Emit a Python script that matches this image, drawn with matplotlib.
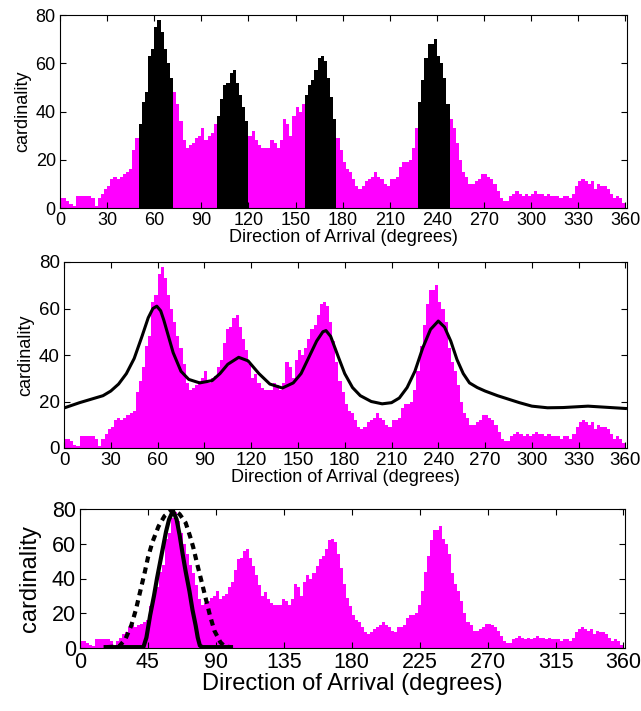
import numpy as np
import matplotlib
matplotlib.use('Agg')
import matplotlib.pyplot as plt

# histogram of DOA estimates, 2-degree bins
bin_edges = np.arange(0, 362, 2)
counts = np.array([4, 4, 3, 1.5, 1, 5, 5, 5, 5, 5, 4, 1, 4, 6, 8, 9, 12, 13, 12, 13,
          14, 15, 16, 24, 29, 35, 44, 48, 63, 66, 75, 78, 73, 66, 60, 54,
          48, 43, 36, 28, 25, 26, 27, 29, 30, 33, 28, 30, 31, 35,
          38, 45, 51, 52, 56, 57, 52, 47, 42, 36,
          30, 32, 28, 26, 25, 25, 25, 28, 27, 25, 28, 37, 35, 30, 38, 42, 40, 43,
          47, 51, 53, 57, 62, 63, 61, 54, 46, 37,
          29, 24, 19, 16, 15, 12, 9, 8, 9, 11, 12, 13, 15, 13, 12, 10, 9, 12, 12,
          13, 17, 19, 19, 20, 25, 33,
          44, 53, 62, 68, 68, 70, 63, 60, 54, 43,
          37, 33, 27, 20, 15, 13, 10, 10, 11, 12, 14, 14, 13, 12, 10, 7, 4, 3, 3,
          5, 6, 7, 6, 5, 6, 5, 6, 7, 6, 6, 5, 6, 5, 5, 5, 4, 5, 5, 4, 6, 9, 11,
          12, 11, 10, 11, 8, 10, 9, 9, 8, 6, 4, 5, 4, 2])

# peak windows highlighted in the top panel
peak_windows = [(50, 72), (100, 120), (156, 176), (228, 248)]

# smoothed density (middle panel)
smooth_deg = [0, 10, 20, 25, 30, 35, 40, 45, 50, 54, 57, 59.5, 62, 64, 67, 70, 75,
              80, 87, 95, 100, 105, 112, 118, 125, 132, 140, 147, 152, 157, 162,
              166, 168, 171, 176, 180, 185, 190, 197, 204, 210, 215, 220, 225,
              230, 235, 240, 244, 248, 252, 256, 260, 265, 270, 278, 285, 292,
              300, 310, 320, 336, 348, 360]
smooth_val = [17.2, 19.5, 21.5, 22.5, 24.5, 27.5, 32, 38.5, 48, 56, 60, 61, 59,
              55, 48, 41, 33, 29.5, 28, 29, 32, 36, 39, 37.5, 32, 27.5, 25.8, 28,
              32, 39, 46, 50, 50.5, 48, 39, 32, 26, 22.5, 20, 19, 19.5, 21.5, 26,
              33, 43, 51, 54.6, 52, 46, 38, 32, 28, 26, 24.5, 22.5, 21, 19.5, 18,
              17.3, 17.4, 18, 17.5, 17]

# fitted component (bottom panel): narrow (solid) and wide (dotted)
narrow_deg = [17, 42, 44, 46.5, 49, 51, 53, 55, 57, 59, 61.6, 64, 66, 68, 70, 72.5,
              74.5, 76.6, 78, 79.4, 81, 100]
narrow_val = [0.5, 0.5, 6, 19, 30, 40, 49, 58, 67, 74, 79, 74, 65, 54, 44, 32.7,
              22, 13, 6, 1.4, 0.5, 0.5]
wide_deg = [18, 26, 30, 34, 37, 40, 43, 45, 48, 52, 56, 61.6, 66, 70, 73, 75, 78,
            81, 84, 86, 89, 93, 96, 100]
wide_val = [0.5, 1, 5, 13, 22, 33, 44, 52, 61, 70, 76, 80, 77, 72, 64, 58, 47,
            36.6, 26, 19, 10, 3.3, 0.8, 0.5]

magenta = '#ff00ff'
font = ['Liberation Sans', 'DejaVu Sans']
W, H = 641, 711

fig = plt.figure(figsize=(W / 100, H / 100), dpi=100)


def box(left, top, right, bottom):
    # axes rectangle from pixel edges
    return [left / W, 1 - bottom / H, (right - left) / W, (bottom - top) / H]


def style(ax, xticks, tick_size, label_size, ypad):
    ax.set_xlim(0, 361)
    ax.set_ylim(0, 80)
    ax.set_xticks(xticks)
    ax.set_yticks([0, 20, 40, 60, 80])
    ax.tick_params(direction='in', top=True, right=True, length=4, width=0.8,
                   labelsize=tick_size, pad=3)
    for lab in ax.get_xticklabels() + ax.get_yticklabels():
        lab.set_family(font)
    ax.set_xlabel('Direction of Arrival (degrees)', family=font,
                  fontsize=label_size, labelpad=0)
    ax.set_ylabel('cardinality', family=font, fontsize=label_size, labelpad=ypad)
    for sp in ax.spines.values():
        sp.set_linewidth(0.8)


def hist(ax, color):
    ax.stairs(counts, bin_edges, fill=True, color=color, linewidth=0)


# top panel: histogram with peak windows in black
ax1 = fig.add_axes(box(60, 15, 627, 208))
hist(ax1, magenta)
for lo, hi in peak_windows:
    i0, i1 = lo // 2, hi // 2
    ax1.stairs(counts[i0:i1], bin_edges[i0:i1 + 1], fill=True, color='black',
               linewidth=0)
style(ax1, range(0, 361, 30), 13, 13, 3)

# middle panel: histogram with smoothed density
ax2 = fig.add_axes(box(64, 262, 627, 448))
hist(ax2, magenta)
ax2.plot(smooth_deg, smooth_val, color='black', lw=2.2)
style(ax2, range(0, 361, 30), 13.5, 13, 3)

# bottom panel: histogram with fitted component
ax3 = fig.add_axes(box(80, 509, 625, 648))
hist(ax3, magenta)
ax3.plot(wide_deg, wide_val, color='black', lw=3, ls=(0, (1.5, 1.2)))
ax3.plot(narrow_deg, narrow_val, color='black', lw=3)
style(ax3, range(0, 361, 45), 15.5, 17, 8)

fig.savefig('out.png', dpi=100)
